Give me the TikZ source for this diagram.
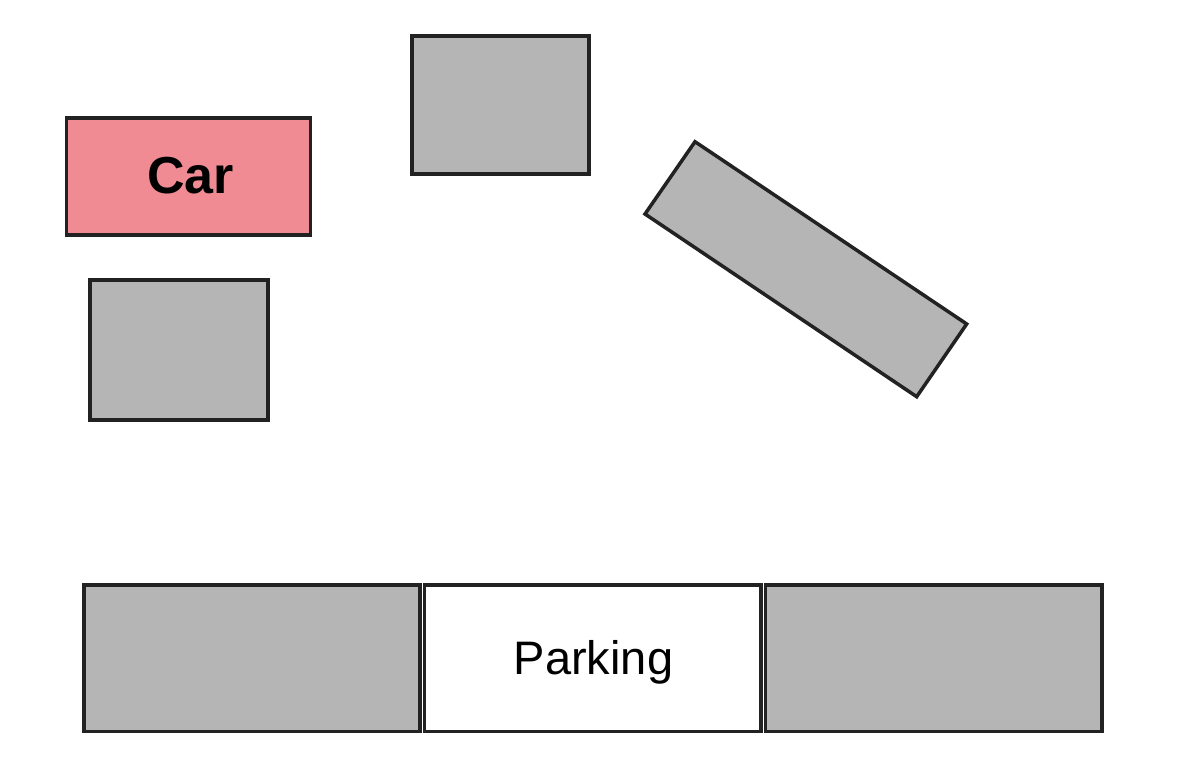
\documentclass[tikz,border=0pt]{standalone}
\usepackage{fontspec}
\setmainfont{Liberation Sans}
\definecolor{edge}{HTML}{222222}
\definecolor{block}{HTML}{B5B5B5}
\definecolor{carfill}{HTML}{F08A93}
\begin{document}
\begin{tikzpicture}[x=1pt,y=-1pt,
  obj/.style={draw=edge,line width=3.5pt,line join=miter},
  grayobj/.style={obj,fill=block},
  txt/.style={inner sep=0pt,text=black}]
\useasboundingbox (0,0) rectangle (1182,776);
% car
\draw[obj,fill=carfill] (66.5,118) rectangle (310.5,235);
\node[txt,font=\fontsize{52}{60}\selectfont\bfseries] (car) at (190.5,176) {Car};
% obstacles
\draw[grayobj] (412,36) rectangle (589,174);
\draw[grayobj] (90,280) rectangle (268,420);
\draw[grayobj] (695,141.7) -- (966.7,324) -- (916.7,396.7) -- (645,214) -- cycle;
% bottom row
\draw[grayobj] (84,585) rectangle (420,731.7);
\draw[obj,fill=white] (424.3,585) rectangle (761,731.7);
\draw[grayobj] (765.7,585) rectangle (1102,731.7);
\node[txt,font=\fontsize{47}{56}\selectfont] (parking) at (593.5,662) {Parking};
\end{tikzpicture}
\end{document}
